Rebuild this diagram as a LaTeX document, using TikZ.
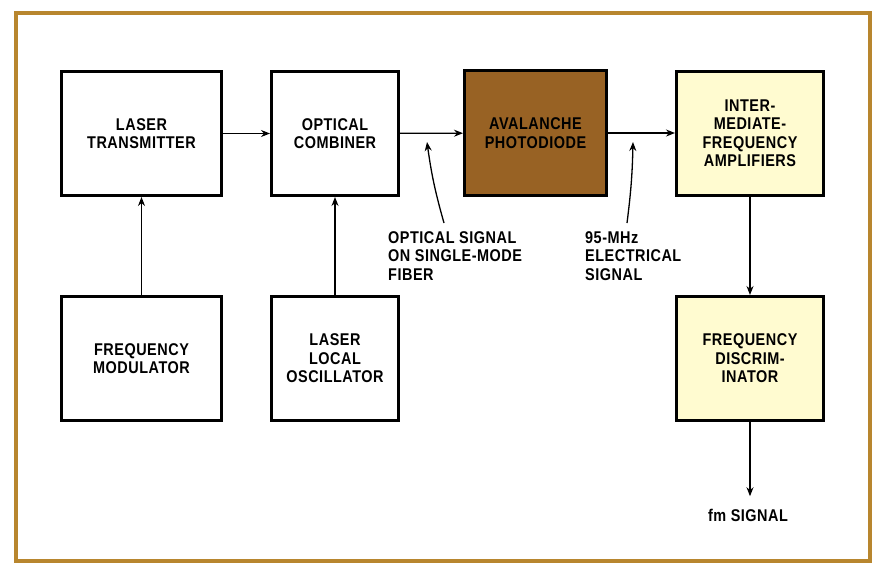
\documentclass[tikz,border=0pt]{standalone}
\usepackage{fontspec}
\setmainfont{Liberation Sans}[FakeStretch=0.85, LetterSpace=3]
\usepackage{xcolor}
\usetikzlibrary{positioning,arrows.meta}

\definecolor{framegold}{RGB}{184,134,46}
\definecolor{apdbrown}{RGB}{152,98,36}
\definecolor{ifyellow}{RGB}{255,251,208}

\begin{document}
\begin{tikzpicture}[
  x=1pt, y=-1pt,
  font=\fontsize{17}{18.5}\selectfont\bfseries,
  >={Stealth[length=9pt, width=7pt]},
  box/.style={draw, line width=3pt, align=center, inner sep=2pt, fill=white},
  wide/.style={box, minimum width=160pt, minimum height=124pt},
  narrow/.style={box, minimum width=127pt, minimum height=124pt},
  ifbox/.style={box, fill=ifyellow, minimum width=147pt, minimum height=124pt},
  sig/.style={->, line width=1.3pt},
  note/.style={align=left, inner sep=0pt, anchor=north west}
]
  \useasboundingbox (0,0) rectangle (875,562);
  % frame
  \draw[framegold, line width=4pt] (15.5,12.5) rectangle (869.5,561);

  % top row
  \node[wide]   (ltx) at (141.5,133.5) {LASER\\TRANSMITTER};
  \node[narrow] (comb) at (335,133.5)  {OPTICAL\\COMBINER};
  \node[box, fill=apdbrown, minimum width=142pt, minimum height=125pt] (apd) at (535.5,133)
    {AVALANCHE\\PHOTODIODE};
  \node[ifbox]  (ifa) at (750,133) {INTER-\\MEDIATE-\\FREQUENCY\\AMPLIFIERS};

  % bottom row
  \node[wide]   (fmod) at (141.5,358.5) {FREQUENCY\\MODULATOR};
  \node[narrow] (llo) at (335,358.5)    {LASER\\LOCAL\\OSCILLATOR};
  \node[ifbox]  (disc) at (750,358.5)   {FREQUENCY\\DISCRIM-\\INATOR};

  % labels
  \node[note] (optlbl) at (388,231) {OPTICAL SIGNAL\\ON SINGLE-MODE\\FIBER};
  \node[note] (ellbl) at (585,231) {95-MHz\\ELECTRICAL\\SIGNAL};
  \node (fmout) at (748,515) {fm SIGNAL};

  % arrows
  \draw[sig] (ltx) -- (comb);
  \draw[sig] (comb) -- (apd);
  \draw[sig] (apd) -- (ifa);
  \draw[sig] (fmod) -- (ltx);
  \draw[sig] (llo) -- (comb);
  \draw[sig] (ifa) -- (disc);
  \draw[sig] (disc) -- ([yshift=9pt]fmout.north -| disc.south);

  % pointers
  \coordinate (optpt) at (427,142);
  \coordinate (elpt) at (633,142);
  \draw[sig] ([xshift=56pt,yshift=8pt]optlbl.north west) to[bend left=4] (optpt);
  \draw[sig] ([xshift=42pt,yshift=8pt]ellbl.north west) to[bend right=3] (elpt);
\end{tikzpicture}
\end{document}
